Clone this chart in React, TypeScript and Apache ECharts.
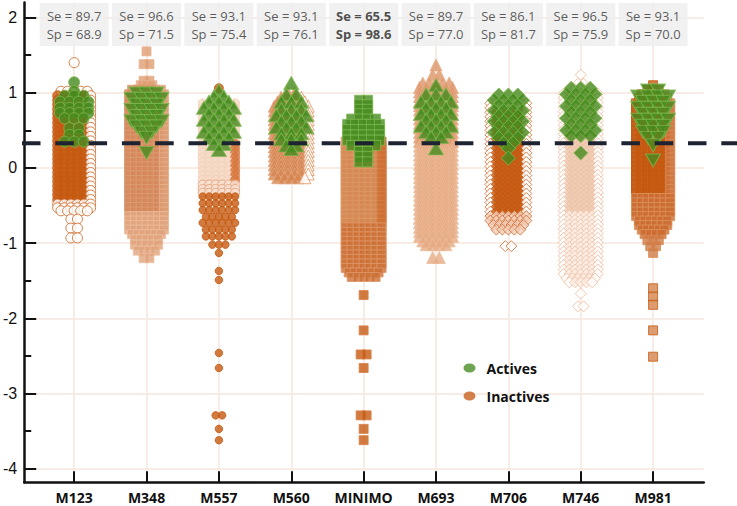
import React, { useEffect, useRef } from 'react';
import * as echarts from 'echarts';

// ---------------- data ----------------
const CATEGORIES = ['M123', 'M348', 'M557', 'M560', 'MINIMO', 'M693', 'M706', 'M746', 'M981'];
const SE = [89.7, 96.6, 93.1, 93.1, 65.5, 89.7, 86.1, 96.5, 93.1];
const SP = [68.9, 71.5, 75.4, 76.1, 98.6, 77.0, 81.7, 75.9, 70.0];
const THRESHOLD = 0.33;
const Y_TICKS = [-4, -3, -2, -1, 0, 1, 2];
const Y_MINOR_TICKS = [-3.5, -2.5, -1.5, -0.5, 0.5, 1.5];
const X_TICKS = [1, 2, 3, 4, 5, 6, 7, 8, 9];

// rows of the swarm: [value, number of markers side by side at that value]
const m123Inactive = [[1.40,1],[1.02,5],[0.96,6],[0.90,6],[0.84,6],[0.78,6],[0.72,6],[0.66,6],[0.60,6],[0.54,6],[0.48,6],[0.42,6],[0.36,6],[0.30,6],[0.24,6],[0.18,6],[0.12,6],[0.06,6],[0.00,6],[-0.06,6],[-0.12,6],[-0.18,6],[-0.24,6],[-0.30,6],[-0.36,6],[-0.42,6],[-0.48,6],[-0.53,6],[-0.57,5],[-0.68,2],[-0.80,2],[-0.93,2]];
const m123Active = [[1.14,1],[1.02,1],[0.96,3],[0.88,4],[0.80,4],[0.73,4],[0.66,3],[0.53,2],[0.44,2],[0.35,3]];

const m348Inactive = [[1.55,1],[1.38,2],[1.16,2],[1.10,3],[1.04,6],[0.98,7],[0.92,7],[0.86,7],[0.80,7],[0.74,7],[0.68,7],[0.62,7],[0.56,7],[0.50,7],[0.44,7],[0.38,7],[0.32,7],[0.26,7],[0.20,7],[0.14,7],[0.08,7],[0.02,7],[-0.04,7],[-0.10,7],[-0.16,7],[-0.22,7],[-0.28,7],[-0.34,7],[-0.40,7],[-0.46,7],[-0.52,7],[-0.58,7],[-0.64,7],[-0.70,7],[-0.76,7],[-0.82,7],[-0.88,6],[-0.95,5],[-1.02,5],[-1.10,4],[-1.20,2]];
const m348Active = [[0.99,3],[0.92,4],[0.84,3],[0.77,4],[0.69,3],[0.62,4],[0.55,3],[0.47,2],[0.40,1],[0.20,1]];

const m557Inactive = [[1.06,1],[0.86,6],[0.80,6],[0.74,6],[0.68,6],[0.62,6],[0.56,6],[0.50,6],[0.44,6],[0.38,6],[0.32,6],[0.26,6],[0.20,6],[0.14,6],[0.08,6],[0.02,6],[-0.04,6],[-0.10,6],[-0.16,6],[-0.22,6],[-0.28,6],[-0.33,6],[-0.38,6],[-0.47,6],[-0.56,6],[-0.65,5],[-0.73,6],[-0.82,5],[-0.91,5],[-1.02,3],[-1.13,1],[-1.37,1],[-1.49,1],[-2.46,1],[-2.66,1],[-3.29,2],[-3.47,1],[-3.62,1]];
const m557Active = [[1.03,1],[0.95,2],[0.88,3],[0.80,4],[0.72,3],[0.64,4],[0.56,3],[0.48,4],[0.40,3],[0.32,2],[0.24,1]];

const m560Inactive = [[1.00,2],[0.94,4],[0.88,5],[0.82,6],[0.76,6],[0.70,6],[0.64,6],[0.58,6],[0.52,6],[0.46,6],[0.40,6],[0.34,6],[0.28,6],[0.22,6],[0.16,6],[0.10,6],[0.04,6],[-0.02,6],[-0.08,6],[-0.13,5]];
const m560Active = [[1.13,1],[0.98,2],[0.88,3],[0.78,3],[0.70,4],[0.62,3],[0.54,4],[0.46,3],[0.38,3],[0.30,2],[0.25,1]];

const minimoInactive = [[0.35,7],[0.29,7],[0.23,7],[0.17,7],[0.11,7],[0.05,7],[-0.01,7],[-0.07,7],[-0.13,7],[-0.19,7],[-0.25,7],[-0.31,7],[-0.37,7],[-0.43,7],[-0.49,7],[-0.55,7],[-0.61,7],[-0.67,7],[-0.73,7],[-0.79,7],[-0.85,7],[-0.91,7],[-0.97,7],[-1.03,7],[-1.09,7],[-1.15,7],[-1.21,7],[-1.27,7],[-1.33,7],[-1.39,6],[-1.45,5],[-1.69,1],[-2.16,1],[-2.48,2],[-2.66,1],[-3.29,2],[-3.47,1],[-3.62,1]];
const minimoActive = [[0.90,2],[0.84,2],[0.78,2],[0.72,2],[0.65,4],[0.58,5],[0.51,5],[0.44,5],[0.37,5],[0.30,4],[0.22,2],[0.15,2],[0.08,2]];

const m693Inactive = [[1.37,1],[1.24,2],[1.13,5],[1.07,6],[1.01,6],[0.95,6],[0.89,6],[0.83,6],[0.77,6],[0.71,6],[0.65,6],[0.59,6],[0.53,6],[0.47,6],[0.41,6],[0.35,6],[0.29,6],[0.23,6],[0.17,6],[0.11,6],[0.05,6],[-0.01,6],[-0.07,6],[-0.13,6],[-0.19,6],[-0.25,6],[-0.31,6],[-0.37,6],[-0.43,6],[-0.49,6],[-0.55,6],[-0.61,6],[-0.67,6],[-0.73,6],[-0.79,6],[-0.85,6],[-0.91,6],[-0.97,5],[-1.02,4],[-1.19,2]];
const m693Active = [[1.10,1],[0.98,3],[0.88,4],[0.80,3],[0.72,4],[0.64,3],[0.56,4],[0.48,3],[0.41,2],[0.26,1]];

const m706Inactive = [[0.86,7],[0.80,7],[0.74,7],[0.68,7],[0.62,7],[0.56,7],[0.50,7],[0.44,7],[0.38,7],[0.32,7],[0.26,7],[0.20,7],[0.14,7],[0.08,7],[0.02,7],[-0.04,7],[-0.10,7],[-0.16,7],[-0.22,7],[-0.28,7],[-0.34,7],[-0.40,7],[-0.46,7],[-0.52,7],[-0.58,7],[-0.64,7],[-0.70,7],[-0.76,6],[-0.82,5],[-1.04,2]];
const m706Active = [[0.97,3],[0.90,4],[0.83,3],[0.76,4],[0.69,3],[0.62,4],[0.55,3],[0.47,4],[0.40,3],[0.33,2],[0.26,1],[0.13,1]];

const m746Inactive = [[1.24,1],[1.12,2],[1.05,5],[0.99,7],[0.93,7],[0.87,7],[0.81,7],[0.75,7],[0.69,7],[0.63,7],[0.57,7],[0.51,7],[0.45,7],[0.39,7],[0.33,7],[0.27,7],[0.21,7],[0.15,7],[0.09,7],[0.03,7],[-0.03,7],[-0.09,7],[-0.15,7],[-0.21,7],[-0.27,7],[-0.33,7],[-0.39,7],[-0.45,7],[-0.51,7],[-0.57,7],[-0.63,7],[-0.69,7],[-0.75,7],[-0.81,7],[-0.87,7],[-0.93,7],[-0.99,7],[-1.05,7],[-1.11,7],[-1.17,7],[-1.23,7],[-1.29,7],[-1.35,7],[-1.41,7],[-1.47,6],[-1.52,5],[-1.67,1],[-1.84,2]];
const m746Active = [[1.06,3],[0.98,4],[0.90,3],[0.82,4],[0.74,3],[0.66,4],[0.58,3],[0.50,4],[0.43,3],[0.20,1]];

const m981Inactive = [[1.10,1],[1.04,3],[0.98,5],[0.92,6],[0.86,7],[0.80,7],[0.74,7],[0.68,7],[0.62,7],[0.56,7],[0.50,7],[0.44,7],[0.38,7],[0.32,7],[0.26,7],[0.20,7],[0.14,7],[0.08,7],[0.02,7],[-0.04,7],[-0.10,7],[-0.16,7],[-0.22,7],[-0.28,7],[-0.34,7],[-0.40,7],[-0.46,7],[-0.52,7],[-0.58,7],[-0.64,7],[-0.70,6],[-0.76,6],[-0.82,5],[-0.88,4],[-0.96,3],[-1.04,2],[-1.13,1],[-1.60,1],[-1.71,1],[-1.82,1],[-2.16,1],[-2.51,1]];
const m981Active = [[1.03,2],[0.95,4],[0.88,3],[0.80,4],[0.72,3],[0.64,4],[0.56,3],[0.48,3],[0.40,2],[0.30,1],[0.10,1]];

const INACTIVE_ROWS = [m123Inactive, m348Inactive, m557Inactive, m560Inactive, minimoInactive, m693Inactive, m706Inactive, m746Inactive, m981Inactive];
const ACTIVE_ROWS = [m123Active, m348Active, m557Active, m560Active, minimoActive, m693Active, m706Active, m746Active, m981Active];

// ---------------- layout & styles ----------------
const W = 737;
const H = 506;
const GRID = { left: 23, right: 33.25, top: 2.5, bottom: 23.7 };
const X_MIN = 0.31, X_MAX = 9.7, Y_MIN = -4.18, Y_MAX = 2.2;
const PX_X = (W - GRID.left - GRID.right) / (X_MAX - X_MIN);
const PX_Y = (H - GRID.top - GRID.bottom) / (Y_MAX - Y_MIN);
const BOX_CENTER_PX = 24.5;
const BOX_Y = Y_MAX - (BOX_CENTER_PX - GRID.top) / PX_Y;

const DARK = '#c55a11';
const solid = (c: string, s: string = c) => ({ color: c, borderColor: s });
const hollow = (s: string) => ({ color: '#ffffff', borderColor: s });

type St = { color: string; borderColor: string; size?: number };
type CatStyle = {
  sym: string; size: number; dx: number;
  aSym: string; aSize: number | number[]; aRot: number; adx: number;
  inact: (y: number, e: string) => St;
};

const TRI = [15, 13];

const CAT_STYLES: CatStyle[] = [
  { sym: 'circle', size: 10, dx: 6.6, aSym: 'circle', aSize: 11, aRot: 0, adx: 9.5,
    inact: (y, e) => (y > 0.98 || y < -0.46 || e === 'r') ? hollow('#c9621f') : solid(DARK) },
  { sym: 'rect', size: 9, dx: 5.8, aSym: 'triangle', aSize: TRI, aRot: 180, adx: 10,
    inact: (y, e) => y > 1.05 ? solid('#de9c72', '#e9b391') : y < -0.6 ? solid('#e0a27b', '#ecbd9d')
      : e === 'r' ? solid('#dc9a70', '#e8b18e') : solid('#d4875a', '#dd9c74') },
  { sym: 'circle', size: 9, dx: 6.5, aSym: 'triangle', aSize: TRI, aRot: 0, adx: 10,
    inact: (y, e) => y > 1 ? solid(DARK) : y <= -0.36 ? { ...solid(DARK), size: 7.5 }
      : y < -0.17 ? solid('#f7e0d2', '#e49c70')
      : (e === 'r' && y < 0.36) ? solid('#d8773d') : solid('#f5d9c7', '#f2cfb9') },
  { sym: 'triangle', size: 12, dx: 6.8, aSym: 'triangle', aSize: TRI, aRot: 0, adx: 10,
    inact: (y, e) => e === 'r' ? hollow('#e0935f') : solid('#d4844f', '#e3a17a') },
  { sym: 'rect', size: 9, dx: 6, aSym: 'rect', aSize: 10, aRot: 0, adx: 8,
    inact: (y, e) => y < -1.6 ? solid(DARK, '#d88049') : y < -0.75 ? solid('#cc6f35', '#e0976a')
      : e === 'r' ? solid('#cc6b2e', '#d57f48') : solid('#d4874f', '#dd9a6b') },
  { sym: 'triangle', size: 12, dx: 6.6, aSym: 'triangle', aSize: TRI, aRot: 0, adx: 10,
    inact: (y) => y > 0.3 ? solid('#dc9466', '#e7ad86') : solid('#e5aa83', '#ecba96') },
  { sym: 'diamond', size: 11, dx: 6, aSym: 'diamond', aSize: 14, aRot: 0, adx: 9.5,
    inact: (y, e) => y < -0.9 ? hollow('#cd6a2d') : y < -0.6 ? solid('#f2cdb6', '#cf6a2e')
      : (y > 0.75 || e) ? hollow('#cf6a2e') : solid(DARK) },
  { sym: 'diamond', size: 11, dx: 5.7, aSym: 'diamond', aSize: 14, aRot: 0, adx: 9.5,
    inact: (y, e) => y < -1.6 ? hollow('#eeb999') : (y > 1.0 || e) ? hollow('#edb898')
      : y < -0.6 ? solid('#fbece3', '#efc1a3') : solid('#efcab2', '#ecbfa2') },
  { sym: 'rect', size: 9, dx: 5.7, aSym: 'triangle', aSize: TRI, aRot: 180, adx: 10,
    inact: (y, e) => y < -1.5 ? solid('#d4854f', DARK) : y < -0.9 ? solid('#d07c47', '#d8884f')
      : y < -0.35 ? solid('#cb6a2e', '#dd925f') : e === 'r' ? solid('#d0763e', '#da8d5c') : solid(DARK) },
];

const ACTIVE_FILL = '#458a1e';
const ACTIVE_BORDER = '#7db94f';
const LEGEND_GREEN = '#4a8c23';
const LEGEND_ORANGE = '#c8601e';
const ELLIPSE_ICON = 'path://M0,4.5a6,4.5 0 1,0 12,0a6,4.5 0 1,0 -12,0z';

function swarm(rows: number[][], k: number, dx: number, make: (v: number[], e: string, y: number) => any) {
  const out: any[] = [];
  rows.forEach(([y, n]) => {
    for (let i = 0; i < n; i++) {
      const off = ((i - (n - 1) / 2) * dx) / PX_X;
      const e = n >= 3 ? (i === 0 ? 'l' : i === n - 1 ? 'r' : '') : '';
      out.push(make([k + 1 + off, y], e, y));
    }
  });
  return out;
}

function buildOption() {
  const inactiveData: any[] = [];
  const activeData: any[] = [];
  CATEGORIES.forEach((_, k) => {
    const st = CAT_STYLES[k];
    inactiveData.push(...swarm(INACTIVE_ROWS[k], k, st.dx, (v, e, y) => {
      const s = st.inact(y, e);
      return {
        value: v, symbol: st.sym, symbolSize: s.size || st.size,
        itemStyle: { color: s.color, borderColor: s.borderColor, borderWidth: 1 },
      };
    }));
    activeData.push(...swarm(ACTIVE_ROWS[k], k, st.adx, (v) => ({
      value: v, symbol: st.aSym, symbolSize: st.aSize, symbolRotate: st.aRot,
      itemStyle: { color: ACTIVE_FILL, borderColor: ACTIVE_BORDER, borderWidth: 1 },
    })));
  });

  const boxData = CATEGORIES.map((_, k) => [k + 1, BOX_Y]);
  const axisColor = '#111111';
  const gridColor = '#f6e7de';

  return {
    animation: false,
    backgroundColor: '#ffffff',
    grid: { left: GRID.left, right: GRID.right, top: GRID.top, bottom: GRID.bottom, containLabel: false },
    legend: {
      orient: 'vertical', left: 458.5, top: 355, itemWidth: 24, itemHeight: 9, itemGap: 12,
      selectedMode: false,
      textStyle: { fontSize: 14, fontWeight: 'bold', color: '#111', fontFamily: 'Open Sans', lineHeight: 16 },
      data: [
        { name: 'Actives', icon: ELLIPSE_ICON, itemStyle: { color: LEGEND_GREEN, borderWidth: 0 } },
        { name: 'Inactives', icon: ELLIPSE_ICON, itemStyle: { color: LEGEND_ORANGE, borderWidth: 0 } },
      ],
    },
    xAxis: {
      type: 'value', min: X_MIN, max: X_MAX,
      axisLine: { show: true, onZero: false, lineStyle: { color: axisColor, width: 2.5 } },
      axisTick: { show: true, customValues: X_TICKS, inside: true, length: 11, lineStyle: { color: axisColor, width: 2 } },
      axisLabel: {
        customValues: X_TICKS, margin: 8, fontSize: 14, fontWeight: 'bold', color: '#111', fontFamily: 'Open Sans',
        formatter: (v: number) => CATEGORIES[Math.round(v) - 1] || '',
      },
      splitLine: { show: true, lineStyle: { color: gridColor, width: 1.5 } },
    },
    yAxis: [
      {
        type: 'value', min: Y_MIN, max: Y_MAX,
        axisLine: { show: true, onZero: false, lineStyle: { color: axisColor, width: 2.5 } },
        axisTick: { show: true, customValues: Y_TICKS, inside: true, length: 12, lineStyle: { color: axisColor, width: 2 } },
        axisLabel: {
          customValues: Y_TICKS, margin: 7, fontSize: 16, color: '#111', fontFamily: 'Liberation Sans',
          formatter: (v: number) => (Math.abs(v - Math.round(v)) < 1e-6 ? String(Math.round(v)) : ''),
        },
        splitLine: { show: true, lineStyle: { color: gridColor, width: 1.5 } },
      },
      {
        type: 'value', min: Y_MIN, max: Y_MAX, position: 'left',
        axisLine: { show: false, onZero: false },
        axisTick: { show: true, customValues: Y_MINOR_TICKS, inside: true, length: 7, lineStyle: { color: axisColor, width: 2 } },
        axisLabel: { show: false },
        splitLine: { show: false },
      },
    ],
    series: [
      {
        name: 'Inactives', type: 'scatter', data: inactiveData, z: 2, progressive: 0, silent: true,
        itemStyle: { color: LEGEND_ORANGE },
      },
      {
        name: 'Actives', type: 'scatter', data: activeData, z: 3, progressive: 0, silent: true,
        itemStyle: { color: LEGEND_GREEN },
      },
      {
        name: 'boxes', type: 'scatter', data: boxData, z: 5, silent: true,
        symbol: 'rect', symbolSize: [69, 43], itemStyle: { color: '#eeeeee' },
        label: {
          show: true, position: 'inside',
          formatter: (p: any) => {
            const i = p.dataIndex;
            const t = i === 4 ? 'b' : 'n';
            return `{${t}|Se = ${SE[i].toFixed(1)}}\n{${t}|Sp = ${SP[i].toFixed(1)}}`;
          },
          rich: {
            n: { fontSize: 13, color: '#333', lineHeight: 18, fontFamily: 'Open Sans' },
            b: { fontSize: 13, color: '#222', lineHeight: 18, fontFamily: 'Open Sans', fontWeight: 'bold' },
          },
        },
      },
    ],
  };
}

export default function App() {
  const ref = useRef<HTMLDivElement>(null);
  useEffect(() => {
    if (!ref.current) return;
    const chart = echarts.init(ref.current, null, { renderer: 'svg' });
    chart.setOption(buildOption() as any);
    const p = chart.convertToPixel({ xAxisIndex: 0, yAxisIndex: 0 }, [1, THRESHOLD]) as number[];
    const py = p[1];
    chart.setOption({
      graphic: [
        {
          type: 'line', z: 100, silent: true,
          shape: { x1: GRID.left - 1, y1: py, x2: W, y2: py },
          style: { stroke: '#1d2330', lineWidth: 4, lineDash: [18.5, 14.8], lineDashOffset: 0 },
        },
      ],
    });
    return () => chart.dispose();
  }, []);
  return <div ref={ref} style={{ position: 'fixed', left: 0, top: 0, width: W, height: H }} />;
}
